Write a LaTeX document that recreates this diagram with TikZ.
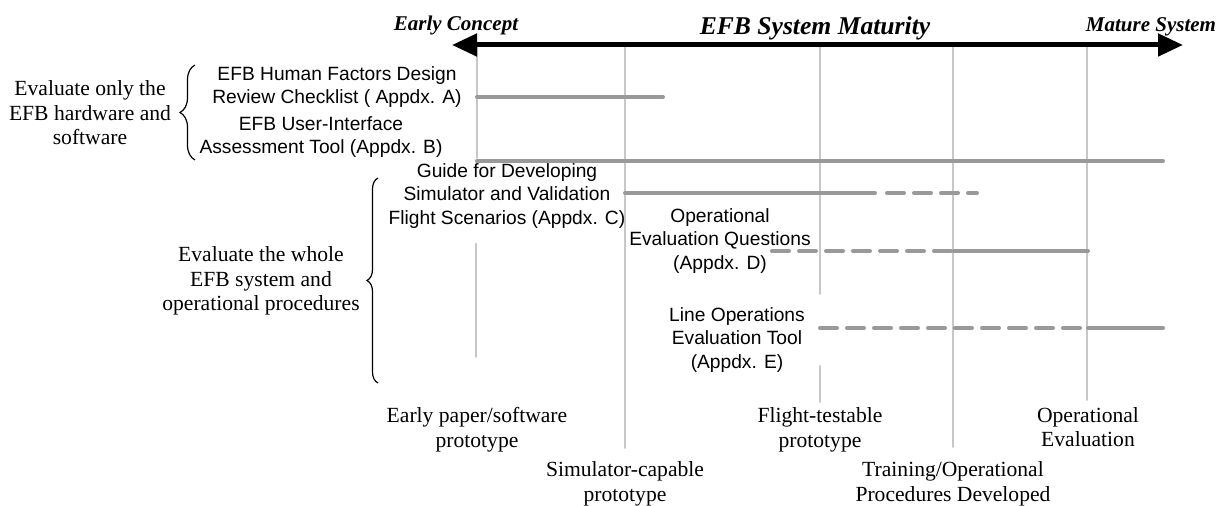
\documentclass[tikz,border=0pt]{standalone}
\usepackage{fontspec}
\setmainfont{Liberation Serif}
\setsansfont{Liberation Sans}
\usepackage{tikz}
\usepackage{tkz-euclide}
\usepackage{xcolor}
\usetikzlibrary{arrows.meta,decorations.pathreplacing}

\begin{document}
\begin{tikzpicture}[x=0.5pt,y=-0.5pt,
    mline/.style={draw=black!22,line width=1pt},
    tbar/.style={draw=black!40,line width=2pt},
    tdash/.style={tbar,dash pattern=on 8.5pt off 5pt},
    goal/.style={font=\fontsize{10.8}{12.2}\selectfont,align=center,inner sep=0pt},
    stage/.style={font=\fontsize{10.8}{12.3}\selectfont,align=center,inner sep=0pt},
    tool/.style={font=\sffamily\fontsize{9.6}{11.6}\selectfont,align=center,inner sep=0pt},
    endlbl/.style={font=\bfseries\itshape\fontsize{10.5}{12}\selectfont,inner sep=0pt,anchor=base},
    curly/.style={decorate,line width=0.6pt}]
    \useasboundingbox (0,0) rectangle (1227,506);
    \tkzDefPoints{477/45/t1,625/45/t2,820/45/t3,953/45/t4,1087/45/t5}
    \tkzDefPoints{477/158/b1,625/448/b2,820/294/b3,953/447/b4,1087/400/b5}
    \tkzDefPoints{476/244/u1,476/357/w1,820/366/u3,820/402/w3}
    \tkzDrawSegments[mline](t1,b1 t2,b2 t3,b3 t4,b4 t5,b5 u1,w1 u3,w3)
    \tkzDefPoints{477/97/A1,663/97/A2,477/161/B1,1163/161/B2}
    \tkzDefPoints{625/193/C1,875/193/C2,887/193/C3,977/193/C4}
    \tkzDefPoints{772/251/D1,954/251/D2,1088/251/D3}
    \tkzDefPoints{820/328/E1,1088/328/E2,1163/328/E3}
    \tkzDrawSegments[tbar](A1,A2 B1,B2 C1,C2 D2,D3 E2,E3)
    \tkzDrawSegments[tdash](C3,C4 D1,D2 E1,E2)
    \tkzDefPoints{452/45/L,1183/45/R}
    \draw[line width=2.5pt,{Triangle[length=12.5pt,width=11pt]}-{Triangle[length=12.5pt,width=11pt]}] (L) -- (R);
    \node[endlbl] (early) at (456,31) {Early Concept};
    \node[endlbl,font=\bfseries\itshape\fontsize{12.8}{14}\selectfont] (maturity) at (815,35) {EFB System Maturity};
    \node[endlbl] (mature) at (1151,32) {Mature System};
    \node[tool] (toolA) at (337,87) {EFB Human Factors Design\\Review Checklist ( Appdx. A)};
    \node[tool] (toolB) at (321,137) {EFB User-Interface\\Assessment Tool (Appdx. B)};
    \node[tool] (toolC) at (507,196) {Guide for Developing\\Simulator and Validation\\Flight Scenarios (Appdx. C)};
    \node[tool] (toolD) at (720,241) {Operational\\Evaluation Questions\\(Appdx. D)};
    \node[tool] (toolE) at (737,340) {Line Operations\\Evaluation Tool\\(Appdx. E)};
    \node[goal] (goalA) at (90,113) {Evaluate only the\\EFB hardware and\\software};
    \node[goal] (goalB) at (261,281) {Evaluate the whole\\EFB system and\\operational procedures};
    \tkzDefPoints{195/160/p1,195/65/p2,378/383/q1,378/178/q2}
    \draw[curly,decoration={brace,amplitude=7.5pt}] (p1) -- (p2);
    \draw[curly,decoration={brace,amplitude=5.5pt}] (q1) -- (q2);
    \node[stage] (stage1) at (477,430) {Early paper/software\\prototype};
    \node[stage] (stage2) at (625,484) {Simulator-capable\\prototype};
    \node[stage] (stage3) at (820,430) {Flight-testable\\prototype};
    \node[stage] (stage4) at (953,484) {Training/Operational\\Procedures Developed};
    \node[stage] (stage5) at (1088,427) {Operational\\Evaluation};
\end{tikzpicture}
\end{document}
